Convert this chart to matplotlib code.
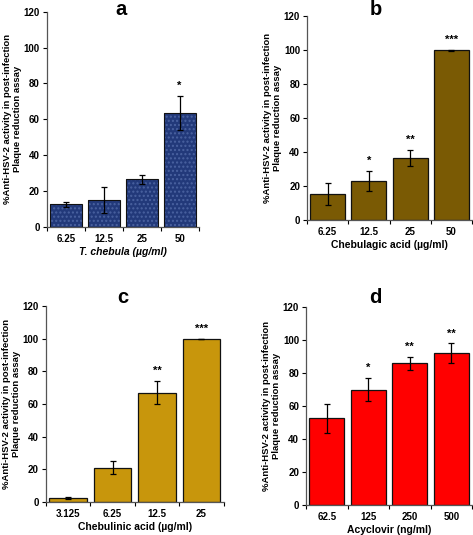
import matplotlib

matplotlib.use("Agg")

import matplotlib.pyplot as plt
import numpy as np

plt.rcParams["font.family"] = ["Liberation Sans", "DejaVu Sans"]
plt.rcParams["font.weight"] = "bold"

# panel data
a_labels = ["6.25", "12.5", "25", "50"]
a_values = [12.5, 15.0, 26.5, 63.5]
a_errors = [1.5, 7.5, 2.5, 9.5]
a_stars = ["", "", "", "*"]

b_labels = ["6.25", "12.5", "25", "50"]
b_values = [15.0, 23.0, 36.5, 99.8]
b_errors = [6.5, 6.0, 4.5, 0.3]
b_stars = ["", "*", "**", "***"]

c_labels = ["3.125", "6.25", "12.5", "25"]
c_values = [2.5, 21.0, 67.0, 100.0]
c_errors = [0.5, 4.2, 7.2, 0.0]
c_stars = ["", "", "**", "***"]

d_labels = ["62.5", "125", "250", "500"]
d_values = [52.5, 70.0, 86.0, 92.0]
d_errors = [9.0, 7.0, 4.0, 6.0]
d_stars = ["", "*", "**", "**"]

ylabel = "%Anti-HSV-2 activity in post-infection\nPlaque reduction assay"

panels = [
    # letter, labels, values, errors, stars, color, xlabel, italic, rect, title pos
    ("a", a_labels, a_values, a_errors, a_stars, "#22397a", "T. chebula (µg/ml)", True,
     [0.099, 0.576, 0.321, 0.402], (0.49, 1.01)),
    ("b", b_labels, b_values, b_errors, b_stars, "#7a5a04", "Chebulagic acid (µg/ml)", False,
     [0.649, 0.589, 0.349, 0.381], (0.42, 1.03)),
    ("c", c_labels, c_values, c_errors, c_stars, "#c8960c", "Chebulinic acid (µg/ml)", False,
     [0.097, 0.062, 0.376, 0.366], (0.43, 1.045)),
    ("d", d_labels, d_values, d_errors, d_stars, "#ff0000", "Acyclovir (ng/ml)", False,
     [0.647, 0.056, 0.351, 0.370], (0.42, 1.05)),
]

fig = plt.figure(figsize=(4.73, 5.35), dpi=100)

for letter, labels, values, errors, stars, color, xlabel, italic, rect, tpos in panels:
    ax = fig.add_axes(rect)
    x = np.arange(len(values))
    if letter == "a":
        ax.bar(x, values, width=0.85, color=color, edgecolor="#4a62a0",
               hatch="....", linewidth=0, zorder=2)
        ax.bar(x, values, width=0.85, fill=False, edgecolor="#111111",
               linewidth=0.8, zorder=3)
    else:
        ax.bar(x, values, width=0.85, color=color, edgecolor="#111111",
               linewidth=0.9, zorder=2)
    ax.errorbar(x, values, yerr=errors, fmt="none", ecolor="black",
                elinewidth=0.9, capsize=2.5, capthick=0.9, zorder=4)
    for xi, v, e, s in zip(x, values, errors, stars):
        if s:
            ax.text(xi, v + e + 3, s, ha="center", va="bottom",
                    fontsize=8, fontweight="bold")

    ax.set_xlim(-0.5, 3.5)
    ax.set_ylim(0, 120)
    ax.set_yticks(np.arange(0, 121, 20))
    ax.set_xticks(x)
    ax.set_xticklabels(labels)
    ax.set_xticks(np.arange(-0.5, 4.0, 1.0), minor=True)
    ax.tick_params(axis="x", which="major", length=0, labelsize=7, pad=5)
    ax.tick_params(axis="x", which="minor", length=3, width=0.8, direction="out")
    ax.tick_params(axis="y", length=3, width=0.8, labelsize=7, pad=2)
    for t in ax.get_xticklabels() + ax.get_yticklabels():
        t.set_fontweight("bold")
    for side in ("top", "right"):
        ax.spines[side].set_visible(False)
    for side in ("left", "bottom"):
        ax.spines[side].set_color("#555555")
        ax.spines[side].set_linewidth(0.9)

    ax.set_xlabel(xlabel, fontsize=7.5, fontweight="bold",
                  fontstyle="italic" if italic else "normal", labelpad=2)
    ax.set_ylabel(ylabel, fontsize=6.8, fontweight="bold", labelpad=1.5,
                  linespacing=1.05)
    ax.text(tpos[0], tpos[1], letter, transform=ax.transAxes, ha="center",
            va="center", fontsize=14.5, fontweight="bold")

fig.savefig("out.png", dpi=100)
plt.close(fig)
